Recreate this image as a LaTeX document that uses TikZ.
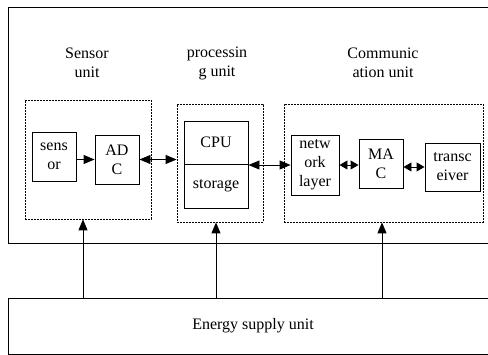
\documentclass[tikz,border=0pt]{standalone}
\usepackage{fontspec}
\setmainfont{Liberation Serif}
\usetikzlibrary{arrows.meta}
\begin{document}
\begin{tikzpicture}[x=1pt,y=-1pt,
  every node/.style={font=\rmfamily\fontsize{16}{19}\selectfont, inner sep=0pt, align=center},
  box/.style={draw, line width=0.9pt},
  grp/.style={draw, line width=0.8pt, dash pattern=on 1.6pt off 1.4pt},
  tip/.tip={Triangle[length=11pt,width=9pt]},
  arr/.style={line width=0.9pt, -tip},
  darr/.style={line width=0.9pt, tip-tip},
  sdarr/.style={line width=0.9pt, {Triangle[length=8pt,width=9pt]}-{Triangle[length=8pt,width=9pt]}}]
\useasboundingbox (0,0) rectangle (488,355);
\draw[line width=0.9pt] (8,7) rectangle (498,243);
\node[box, minimum width=490pt, minimum height=56pt] (energy) at (253,326) {Energy supply unit};
% labels
\node (lsens) at (87,63) {Sensor\\unit};
\node (lproc) at (217,63) {processin\\g unit};
\node (lcomm) at (383,63) {Communic\\ation unit};
% groups
\node[grp, minimum width=126pt, minimum height=119pt] (sgrp) at (88,159.5) {};
\node[grp, minimum width=86pt, minimum height=118pt] (pgrp) at (220,163) {};
\node[grp, minimum width=199pt, minimum height=118pt] (cgrp) at (383.5,163) {};
% sensor unit
\node[box, minimum width=44pt, minimum height=49pt] (sensor) at (54,156.5) {sens\\or};
\node[box, minimum width=44pt, minimum height=49pt] (adc) at (117,159.5) {AD\\C};
% processing unit
\node[box, minimum width=64pt, minimum height=43pt] (cpu) at (216,142.5) {CPU};
\node[box, minimum width=64pt, minimum height=44pt] (stor) at (216,186) {storage};
% communication unit
\node[box, minimum width=48pt, minimum height=60pt] (net) at (315,165) {netw\\ork\\layer};
\node[box, minimum width=44pt, minimum height=49pt] (mac) at (381,163.5) {MA\\C};
\node[box, minimum width=55pt, minimum height=48pt] (trans) at (452.5,167) {transc\\eiver};
% connectors
\draw[arr] (adc.west -| sensor.east) -- (adc.west);
\draw[darr] (adc.east) -- (adc.east -| pgrp.west);
\draw[darr] (net.west -| cpu.east) -- (net.west);
\draw[sdarr] (net.east) -- (net.east -| mac.west);
\draw[sdarr] (trans.west -| mac.east) -- (trans.west);
\draw[arr] (energy.north -| 83,0) -- (sgrp.south -| 83,0);
\draw[arr] (energy.north -| 216,0) -- (pgrp.south -| 216,0);
\draw[arr] (energy.north -| 382,0) -- (cgrp.south -| 382,0);
\end{tikzpicture}
\end{document}
